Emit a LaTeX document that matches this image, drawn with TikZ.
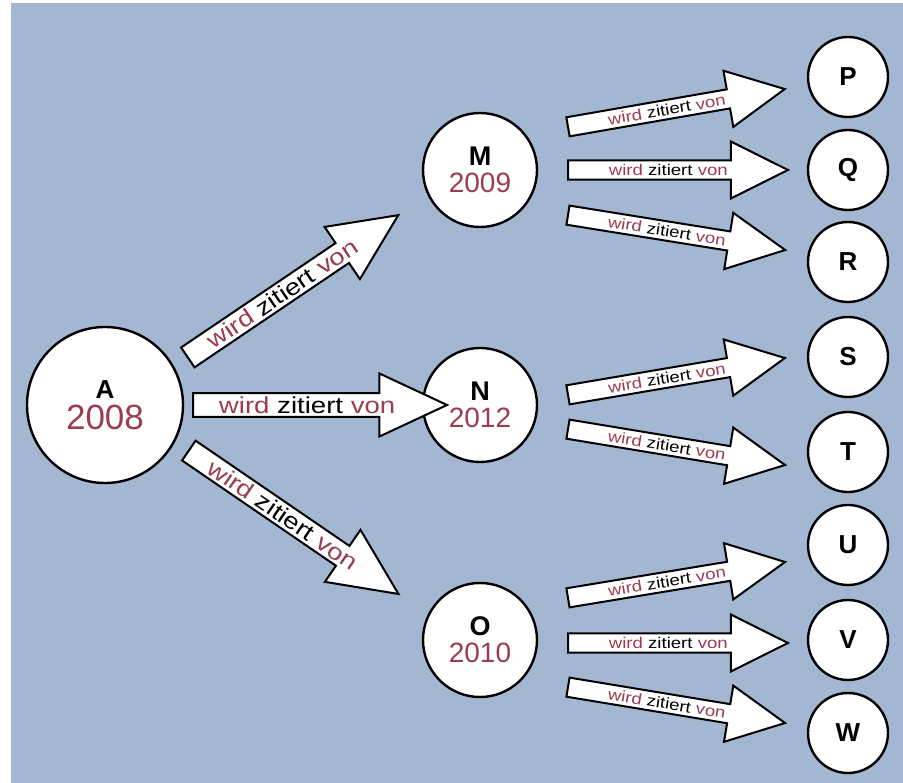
\documentclass[tikz,border=0pt]{standalone}
\usepackage{fontspec}
\setmainfont{Liberation Sans}
\newfontfamily\arrowfont[FakeStretch=1.2]{Liberation Sans}
\usetikzlibrary{shapes.arrows}
\definecolor{bgblue}{RGB}{163,183,210}
\definecolor{yearred}{RGB}{155,60,80}
\newcommand{\wzv}{{\color{yearred}wird} zitiert {\color{yearred}von}}

\begin{document}
\begin{tikzpicture}[x=1pt,y=-1pt,
  paper/.style={circle,draw=black,fill=white,line width=2.4pt,inner sep=0pt,align=center},
  bigpaper/.style={paper,minimum size=156pt,font=\fontsize{26}{31}\selectfont\bfseries},
  midpaper/.style={paper,minimum size=114pt,font=\fontsize{27}{27}\selectfont\bfseries},
  leafpaper/.style={paper,minimum size=80pt,font=\fontsize{26}{26}\selectfont\bfseries},
  citearrow/.style={single arrow,draw=black,fill=white,line width=2pt,inner sep=1pt,
    single arrow head indent=0pt,sloped,pos=0,anchor=tail},
  bigcite/.style={citearrow,minimum height=254pt,minimum width=63pt,
    single arrow head extend=17pt,single arrow tip angle=50,
    font=\arrowfont\fontsize{23}{23}\selectfont},
  smallcite/.style={citearrow,minimum height=220pt,minimum width=57pt,
    single arrow head extend=15pt,single arrow tip angle=53,
    font=\arrowfont\fontsize{15.5}{15.5}\selectfont}]

  \useasboundingbox (0,0) rectangle (903,783);
  \fill[bgblue] (11,3) rectangle (903,783);

  % papers
  \node[bigpaper] (A) at (105,405) {A\\{\mdseries\color{yearred}\fontsize{35}{31}\selectfont 2008}};

  \node[midpaper] (M) at (480,170) {M\\{\mdseries\color{yearred}\fontsize{28}{27}\selectfont 2009}};
  \node[midpaper] (N) at (480,405) {N\\{\mdseries\color{yearred}\fontsize{28}{27}\selectfont 2012}};
  \node[midpaper] (O) at (480,640) {O\\{\mdseries\color{yearred}\fontsize{28}{27}\selectfont 2010}};

  \node[leafpaper] (P) at (848, 77) {P};
  \node[leafpaper] (Q) at (848,170) {Q};
  \node[leafpaper] (R) at (848,262) {R};
  \node[leafpaper] (S) at (848,357) {S};
  \node[leafpaper] (T) at (848,452) {T};
  \node[leafpaper] (U) at (848,545) {U};
  \node[leafpaper] (V) at (848,640) {V};
  \node[leafpaper] (W) at (848,733) {W};

  % arrow ends
  \coordinate (am1) at (187,358); \coordinate (am2) at (397,216);
  \coordinate (an1) at (192,405); \coordinate (an2) at (447,405);
  \coordinate (ao1) at (188,450); \coordinate (ao2) at (397,593);

  \coordinate (mp1) at (567,127); \coordinate (mp2) at (785, 89);
  \coordinate (mq1) at (567,170); \coordinate (mq2) at (785,170);
  \coordinate (mr1) at (567,215); \coordinate (mr2) at (785,250);
  \coordinate (ns1) at (567,395); \coordinate (ns2) at (785,358);
  \coordinate (nt1) at (567,429); \coordinate (nt2) at (785,465);
  \coordinate (ou1) at (567,598); \coordinate (ou2) at (785,562);
  \coordinate (ov1) at (567,643); \coordinate (ov2) at (785,643);
  \coordinate (ow1) at (567,687); \coordinate (ow2) at (785,723);

  % A is cited by M, N, O
  \path (am1) -- node[bigcite]{\wzv} (am2);
  \path (an1) -- node[bigcite]{\wzv} (an2);
  \path (ao1) -- node[bigcite]{\wzv} (ao2);

  % second generation
  \path (mp1) -- node[smallcite]{\wzv} (mp2);
  \path (mq1) -- node[smallcite]{\wzv} (mq2);
  \path (mr1) -- node[smallcite]{\wzv} (mr2);
  \path (ns1) -- node[smallcite]{\wzv} (ns2);
  \path (nt1) -- node[smallcite]{\wzv} (nt2);
  \path (ou1) -- node[smallcite]{\wzv} (ou2);
  \path (ov1) -- node[smallcite]{\wzv} (ov2);
  \path (ow1) -- node[smallcite]{\wzv} (ow2);

\end{tikzpicture}
\end{document}
